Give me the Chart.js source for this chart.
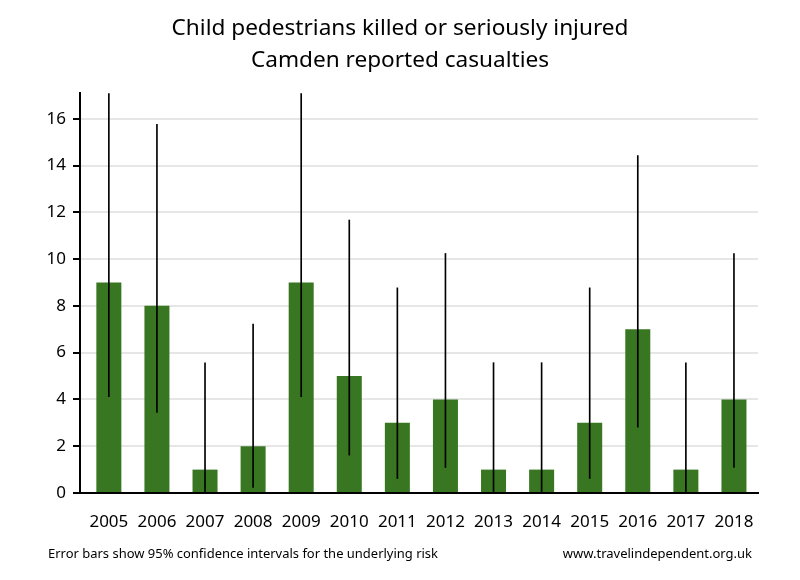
<!DOCTYPE html>
<html lang="en">
<head>
    <meta charset="UTF-8">
    <title>Child pedestrians KSI - Camden</title>
    <script src="https://cdn.jsdelivr.net/npm/chart.js"></script>
    <style>
        html, body {
            margin: 0;
            padding: 0;
            background: white;
        }
        .wrap {
            width: 800px;
            height: 580px;
            position: relative;
        }
    </style>
</head>
<body>
    <div class="wrap">
        <canvas id="chart"></canvas>
    </div>

    <script>
        const years = ['2005', '2006', '2007', '2008', '2009', '2010', '2011',
                       '2012', '2013', '2014', '2015', '2016', '2017', '2018'];
        const casualties = [9, 8, 1, 2, 9, 5, 3, 4, 1, 1, 3, 7, 1, 4];
        // 95% confidence interval
        const ciLow  = [4.12, 3.45, 0.03, 0.24, 4.12, 1.62, 0.62, 1.09, 0.03, 0.03, 0.62, 2.81, 0.03, 1.09];
        const ciHigh = [17.08, 15.76, 5.57, 7.22, 17.08, 11.67, 8.77, 10.24, 5.57, 5.57, 8.77, 14.42, 5.57, 10.24];
        const yTicks = [0, 2, 4, 6, 8, 10, 12, 14, 16];

        const barData = casualties.map((v, i) => ({ x: i, y: v }));
        const errData = ciLow.map((lo, i) => ({ x: i, y: [lo, ciHigh[i]] }));

        const footerText = {
            id: 'footerText',
            afterDraw(chart) {
                const ctx = chart.ctx;
                ctx.save();
                ctx.fillStyle = '#000';
                ctx.font = '13px "Noto Sans"';
                ctx.textBaseline = 'middle';
                ctx.textAlign = 'left';
                ctx.fillText('Error bars show 95% confidence intervals for the underlying risk', 48, 554, 390);
                ctx.textAlign = 'right';
                ctx.fillText('www.travelindependent.org.uk', 752, 554, 196);
                ctx.restore();
            }
        };

        const ctx = document.getElementById('chart').getContext('2d');
        new Chart(ctx, {
            type: 'bar',
            data: {
                datasets: [
                    {
                        label: 'CI',
                        data: errData,
                        backgroundColor: '#000',
                        barThickness: 1,
                        grouped: false,
                        order: 0
                    },
                    {
                        label: 'Casualties',
                        data: barData,
                        backgroundColor: '#387622',
                        barPercentage: 0.52,
                        categoryPercentage: 1,
                        grouped: false,
                        order: 1
                    }
                ]
            },
            options: {
                responsive: true,
                maintainAspectRatio: false,
                animation: false,
                layout: { padding: { left: 0, right: 0, top: 0, bottom: 40 } },
                plugins: {
                    legend: { display: false },
                    tooltip: { enabled: false },
                    title: {
                        display: true,
                        text: ['Child pedestrians killed or seriously injured', 'Camden reported casualties'],
                        color: '#000',
                        font: { family: 'Noto Sans', size: 22.6, weight: 'normal', lineHeight: '32px' },
                        padding: { top: 13, bottom: 16 }
                    }
                },
                scales: {
                    x: {
                        type: 'linear',
                        min: -0.6,
                        max: 13.5,
                        offset: false,
                        grid: { display: false, drawTicks: false },
                        border: { display: true, color: '#000', width: 2 },
                        ticks: {
                            stepSize: 1,
                            autoSkip: false,
                            includeBounds: false,
                            maxRotation: 0,
                            padding: 19,
                            color: '#000',
                            font: { family: 'Noto Sans', size: 17 },
                            callback: (v) => years[v]
                        },
                        afterFit: (scale) => { scale.height = 47; }
                    },
                    y: {
                        min: 0,
                        max: 17.1,
                        grid: {
                            color: '#e6e6e6',
                            lineWidth: 2,
                            drawTicks: true,
                            tickLength: 7,
                            tickColor: '#000',
                            tickWidth: 2
                        },
                        border: { display: true, color: '#000', width: 2 },
                        afterBuildTicks: (scale) => { scale.ticks = yTicks.map(v => ({ value: v })); },
                        ticks: {
                            includeBounds: false,
                            padding: 7,
                            color: '#000',
                            font: { family: 'Noto Sans', size: 17 }
                        },
                        afterFit: (scale) => { scale.width = 80; }
                    },
                    // empty right-hand axis, only keeps the right margin so the title stays centred
                    yRight: {
                        position: 'right',
                        min: 0,
                        max: 17.1,
                        grid: { display: false },
                        border: { display: false },
                        ticks: { display: false },
                        afterFit: (scale) => { scale.width = 42; }
                    }
                }
            },
            plugins: [footerText]
        });
    </script>
</body>
</html>
